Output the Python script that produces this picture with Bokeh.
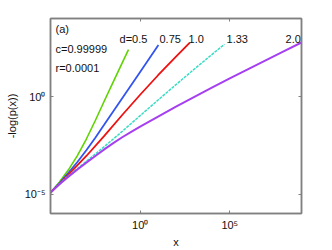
import numpy as np
from bokeh.plotting import figure
from bokeh.models import LogAxis, FixedTicker, Label, ColumnDataSource
from bokeh.core.properties import value
from bokeh.embed import file_html
from bokeh.resources import INLINE

# ---- data (log10 values) ----
green_lx = [-5, -4.5, -4, -3.5, -3, -2.5, -2, -1.5, -1, -0.65]
green_ly = [-4.93, -4.38, -3.76, -3.03, -2.18, -1.23, -0.23, 0.75, 1.72, 2.40]

blue_lx = [-5, -4.5, -4, -3.5, -3, -2.5, -2, -1, 0, 1.02]
blue_ly = [-4.93, -4.44, -3.92, -3.36, -2.76, -2.11, -1.44, -0.09, 1.26, 2.64]

red_lx = [-5, -4.5, -4, -3, -2, -1, 0, 1, 2, 2.77]
red_ly = [-4.93, -4.48, -4.01, -3.05, -2.02, -0.95, 0.09, 1.09, 2.05, 2.76]

cyan_lx = [-5, -4.5, -4, -3, -2, -1, 0, 1, 2, 3, 4, 4.7]
cyan_ly = [-4.93, -4.48, -4.07, -3.32, -2.57, -1.79, -0.98, -0.18, 0.61, 1.39, 2.15, 2.68]

purple_lx = [-5, -4.5, -4, -3.5, -3, -2.5, -2, -1.5, -1, -0.5, 0, 1, 2, 3, 4, 5, 6, 7, 8, 9]
purple_ly = [-4.93, -4.50, -4.11, -3.74, -3.39, -3.05, -2.71, -2.39, -2.09, -1.81, -1.55,
             -1.03, -0.52, -0.03, 0.45, 0.93, 1.39, 1.85, 2.31, 2.77]

curve_labels = ["d=0.5", "0.75", "1.0", "1.33", "2.0"]
curve_label_lx = [-1.15, 1.08, 2.70, 4.82, 8.11]
curve_label_ly = 2.97

x_ticks = [1e0, 1e5]
y_ticks = [1e-5, 1e0]
x_tick_labels = {1e0: "10⁰", 1e5: "10⁵"}
y_tick_labels = {1e-5: "10⁻⁵", 1e0: "10⁰"}

FONT = "Liberation Sans"
GRAY = "#808080"

p = figure(width=332, height=250, x_axis_type="log", y_axis_type="log",
           x_range=(1e-5, 1e9), y_range=(1e-6, 1e4),
           output_backend="svg", toolbar_location=None,
           min_border_left=50, min_border_right=31,
           min_border_top=18, min_border_bottom=37)
p.grid.visible = False
p.outline_line_color = GRAY
p.outline_line_width = 1.5
p.background_fill_color = "white"
p.border_fill_color = "white"


def style_axis(ax, ticks, labels=None):
    ax.ticker = FixedTicker(ticks=ticks, minor_ticks=[])
    ax.axis_line_color = GRAY
    ax.axis_line_width = 1.5
    ax.major_tick_line_color = GRAY
    ax.major_tick_in = 3
    ax.major_tick_out = 0
    ax.minor_tick_line_color = None
    ax.major_label_text_font = FONT
    ax.major_label_text_font_size = "11px"
    ax.major_label_text_color = "#111111"
    if labels is not None:
        ax.major_label_overrides = labels
        ax.major_label_standoff = 5
    else:
        ax.major_label_overrides = {t: "" for t in ticks}
        ax.major_label_standoff = 0


style_axis(p.xaxis[0], x_ticks, x_tick_labels)
style_axis(p.yaxis[0], y_ticks, y_tick_labels)

for ax, lab, so in ((p.xaxis[0], "x", 2), (p.yaxis[0], "-log(p(x))", 4)):
    ax.axis_label = lab
    ax.axis_label_text_font = FONT
    ax.axis_label_text_font_size = "11px"
    ax.axis_label_text_font_style = "normal"
    ax.axis_label_text_color = "#111111"
    ax.axis_label_standoff = so

top = LogAxis()
style_axis(top, x_ticks)
p.add_layout(top, "above")
right = LogAxis()
style_axis(right, y_ticks)
p.add_layout(right, "right")

series = [
    (green_lx, green_ly, "#5fd400", "solid", 1.6),
    (blue_lx, blue_ly, "#3355ee", "solid", 1.8),
    (red_lx, red_ly, "#ee1111", "solid", 1.8),
    (cyan_lx, cyan_ly, "#38dcc4", "3 1", 1.5),
    (purple_lx, purple_ly, "#a63ff0", "solid", 2.0),
]
for lx, ly, col, dash, w in series:
    src = ColumnDataSource(dict(x=10 ** np.array(lx, float), y=10 ** np.array(ly, float)))
    p.line("x", "y", source=src, line_color=col, line_width=w, line_dash=dash)

lab_src = ColumnDataSource(dict(
    x=10 ** np.array(curve_label_lx, float),
    y=[10 ** curve_label_ly] * len(curve_labels),
    t=curve_labels))
p.text("x", "y", text="t", source=lab_src, text_font=value(FONT),
       text_font_size="11px", text_align="left", text_baseline="middle",
       text_color="#111111")

for txt, ly in (("(a)", 3.44), ("c=0.99999", 2.46), ("r=0.0001", 1.44)):
    p.add_layout(Label(x=10 ** -4.72, y=10 ** ly, text=txt, text_font=FONT,
                       text_font_size="11px", text_baseline="middle",
                       text_align="left", text_color="#111111"))

open("out.html", "w").write(file_html(p, INLINE))
